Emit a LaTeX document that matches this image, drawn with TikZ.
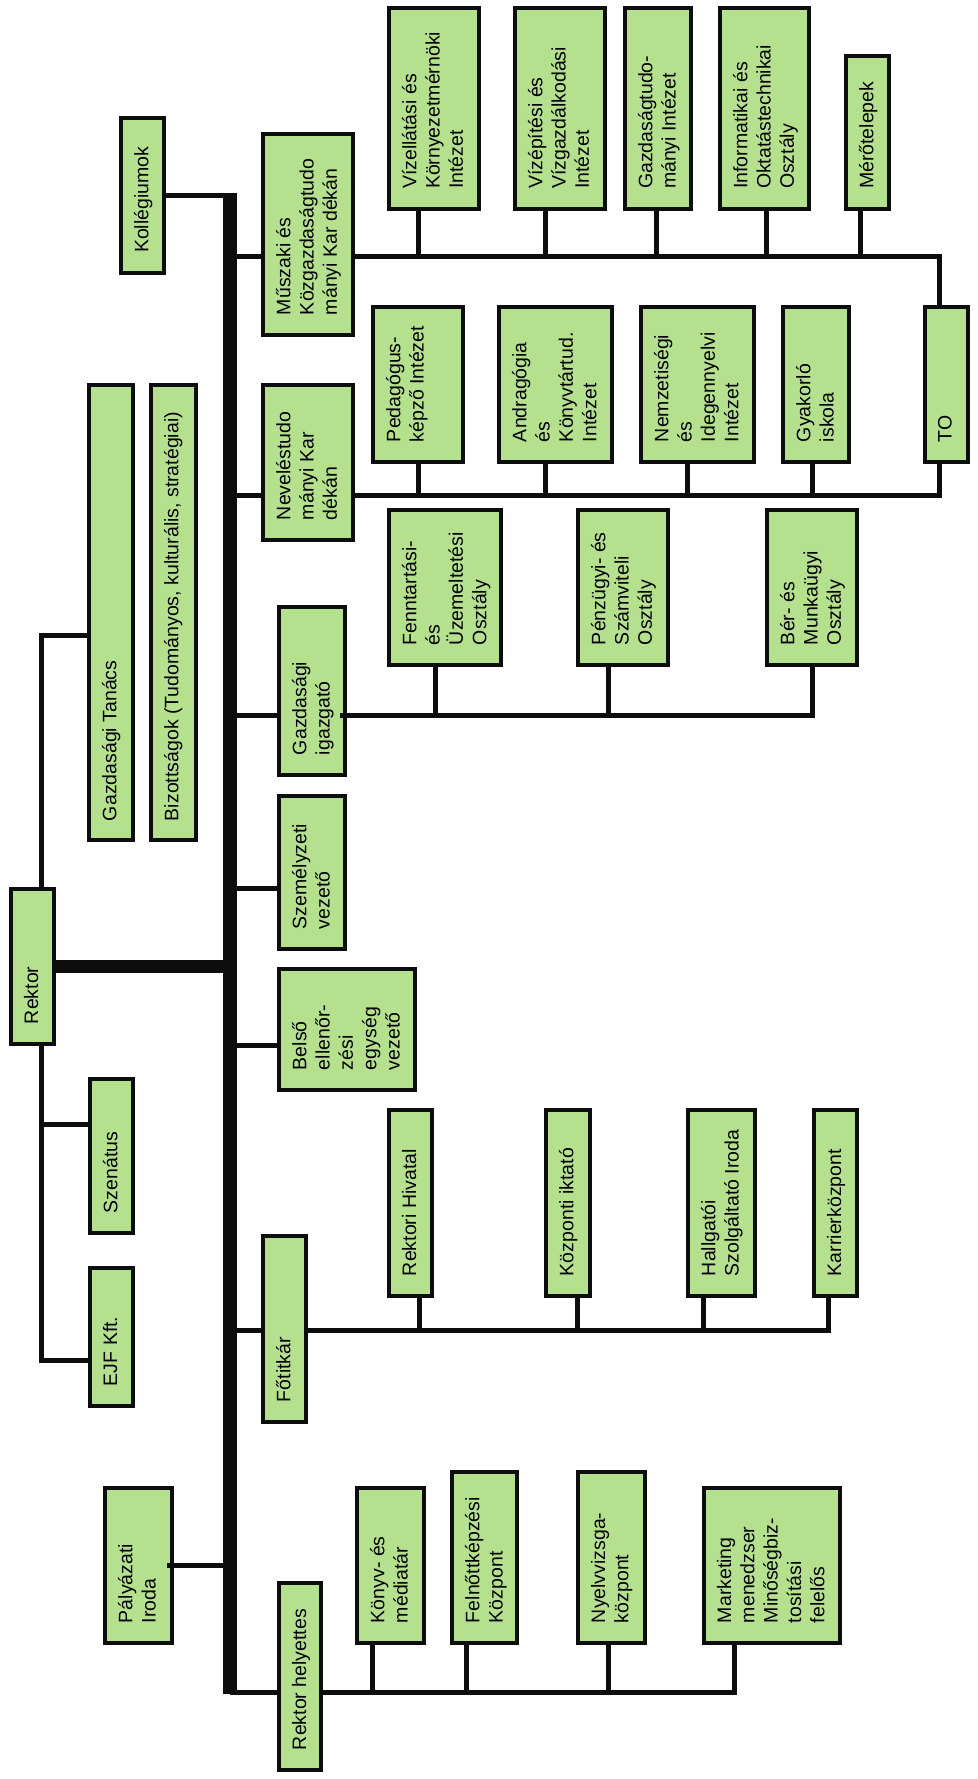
\documentclass[tikz,border=0pt]{standalone}
\usepackage{fontspec}
\setmainfont{Liberation Sans}
\usetikzlibrary{calc}
\definecolor{boxgreen}{RGB}{181,225,143}
\definecolor{ink}{RGB}{13,13,13}
\tikzset{
  box/.style={draw=ink, fill=boxgreen, line width=4.3pt, inner sep=0pt, rectangle},
  txt/.style={rotate=90, anchor=north west, inner sep=0pt, outer sep=0pt, align=left, text=black, font=\fontsize{19.5}{23.3}\selectfont},
  conn/.style={draw=ink, line width=5pt},
  bus/.style={draw=ink, line width=14pt},
}
\newcommand{\bx}[7][22]{%
  \node[box, minimum width={#5-#3-4.3}, minimum height={#6-#4-4.3}] (#2) at ({(#3+#5)/2},{(#4+#6)/2}) {};
  \node[txt] (#2t) at ($(#2.south west)+(15,-#1)$) {#7};
}
\begin{document}
\begin{tikzpicture}[x=1pt,y=-1pt]
\useasboundingbox (0,0) rectangle (977,1779);
\fill[white] (0,0) rectangle (977,1779);

% boxes
\bx{kol}{119}{116}{166}{275}{Kollégiumok}
\bx{msz}{261}{132}{355}{337}{Műszaki és\\Közgazdaságtudo\\mányi Kar dékán}
\bx{vk}{387}{6}{481}{211}{Vízellátási és\\Környezetmérnöki\\Intézet}
\bx{vv}{513}{6}{607}{211}{Vízépítési és\\Vízgazdálkodási\\Intézet}
\bx{gtud}{623}{6}{693}{211}{Gazdaságtudo-\\mányi Intézet}
\bx{inf}{718}{6}{811}{211}{Informatikai és\\Oktatástechnikai\\Osztály}
\bx{mer}{844}{54}{891}{211}{Mérőtelepek}
\bx{to}{923}{305}{970}{464}{TO}
\bx{ped}{371}{305}{465}{464}{Pedagógus-\\képző Intézet}
\bx{and}{497}{305}{614}{464}{Andragógia\\és\\Könyvtártud.\\Intézet}
\bx{nem}{639}{305}{756}{464}{Nemzetiségi\\és\\Idegennyelvi\\Intézet}
\bx{gyak}{781}{305}{851}{464}{Gyakorló\\iskola}
\bx{nev}{261}{383}{355}{542}{Neveléstudo\\mányi Kar\\dékán}
\bx[21]{gt}{87}{383}{135}{842}{Gazdasági Tanács}
\bx[21]{biz}{149}{383}{198}{842}{Bizottságok (Tudományos, kulturális, stratégiai)}
\bx{fen}{387}{508}{503}{667}{Fenntartási-\\és\\Üzemeltetési\\Osztály}
\bx{penz}{576}{508}{670}{667}{Pénzügyi- és\\Számviteli\\Osztály}
\bx{ber}{765}{508}{859}{667}{Bér- és\\Munkaügyi\\Osztály}
\bx{gi}{277}{605}{347}{777}{Gazdasági\\igazgató}
\bx{sz}{277}{794}{347}{951}{Személyzeti\\vezető}
\bx{rek}{9}{887}{56}{1046}{Rektor}
\bx{bel}{277}{967}{417}{1092}{Belső\\ellenőr-\\zési\\egység\\vezető}
\bx{szen}{88}{1077}{135}{1235}{Szenátus}
\bx{ejf}{88}{1266}{135}{1408}{EJF Kft.}
\bx{rhiv}{387}{1108}{434}{1298}{Rektori Hivatal}
\bx{kozp}{544}{1108}{592}{1298}{Központi iktató}
\bx{hall}{686}{1108}{757}{1298}{Hallgatói\\Szolgáltató Iroda}
\bx{karr}{812}{1108}{859}{1298}{Karrierközpont}
\bx{fot}{261}{1234}{308}{1424}{Főtitkár}
\bx{pal}{103}{1486}{174}{1645}{Pályázati\\Iroda}
\bx{rh}{277}{1581}{323}{1772}{Rektor helyettes}
\bx{kony}{355}{1486}{426}{1645}{Könyv- és\\médiatár}
\bx{feln}{450}{1470}{519}{1645}{Felnőttképzési\\Központ}
\bx{nyelv}{576}{1470}{647}{1645}{Nyelvvizsga-\\központ}
\bx{mark}{702}{1486}{842}{1645}{Marketing\\menedzser\\Minőségbiz-\\tosítási\\felelős}

% main bus
\coordinate (bt) at (230,193);
\coordinate (bb) at (230,1694);
\draw[bus] (bt) -- (bb);

% Kollégiumok
\draw[conn] (kol.east) -- (kol.east -| bt);

% Műszaki kar
\coordinate (mJ) at (230,257);
\coordinate (mE) at (939,257);
\draw[conn] (mJ) -- (mJ -| msz.west);
\draw[conn] (mJ -| msz.east) -- (mE) -- (mE |- to.north);
\foreach \n/\x in {vk/418, vv/545, gtud/656, inf/766, mer/860}{
  \coordinate (s\n) at (\x,257);
  \draw[conn] (s\n) -- (s\n |- \n.south);
}

% Neveléstudományi kar
\coordinate (nJ) at (230,495);
\coordinate (nE) at (939,495);
\draw[conn] (nJ) -- (nJ -| nev.west);
\draw[conn] (nJ -| nev.east) -- (nE) -- (nE |- to.south);
\foreach \n/\x in {ped/418, and/545, nem/687, gyak/812}{
  \coordinate (s\n) at (\x,495);
  \draw[conn] (s\n) -- (s\n |- \n.south);
}

% Gazdasági igazgató
\coordinate (gJ) at (230,715);
\coordinate (gE) at (812,715);
\draw[conn] (gJ) -- (gJ -| gi.west);
\draw[conn] ($(gJ -| gi.east)+(-7,0)$) -- (gE) -- (gE |- ber.south);
\foreach \n/\x in {fen/435, penz/608}{
  \coordinate (s\n) at (\x,715);
  \draw[conn] (s\n) -- (s\n |- \n.south);
}

% Személyzeti, Belső
\coordinate (szJ) at (230,888);
\draw[conn] (szJ) -- (szJ -| sz.west);
\coordinate (beJ) at (230,1045);
\draw[conn] (beJ) -- (beJ -| bel.west);

% Főtitkár
\coordinate (fJ) at (230,1330);
\coordinate (fE) at (828,1330);
\draw[conn] (fJ) -- (fJ -| fot.west);
\draw[conn] (fJ -| fot.east) -- (fE) -- (fE |- karr.south);
\foreach \n/\x in {rhiv/419, kozp/577, hall/703}{
  \coordinate (s\n) at (\x,1330);
  \draw[conn] (s\n) -- (s\n |- \n.south);
}

% Rektor helyettes
\coordinate (hJ) at (230,1692);
\coordinate (hE) at (734,1692);
\draw[conn] (hJ) -- (hJ -| rh.west);
\draw[conn] (hJ -| rh.east) -- (hE) -- (hE |- mark.south);
\foreach \n/\x in {kony/372, feln/466, nyelv/608}{
  \coordinate (s\n) at (\x,1692);
  \draw[conn] (s\n) -- (s\n |- \n.south);
}

% Pályázati Iroda
\draw[conn] ($(pal.east)+(-7,0)$) -- (pal.east -| bt);

% Rektor
\draw[draw=ink, line width=13pt] (rek.east) -- (rek.east -| bt);
\coordinate (r1) at (41,635);
\coordinate (r2) at (41,1124);
\coordinate (r3) at (41,1360);
\draw[conn] (rek.north -| r1) -- (r1) -- (r1 -| gt.west);
\draw[conn] (rek.south -| r1) -- (r3) -- (r3 -| ejf.west);
\draw[conn] (r2) -- (r2 -| szen.west);
\end{tikzpicture}
\end{document}
